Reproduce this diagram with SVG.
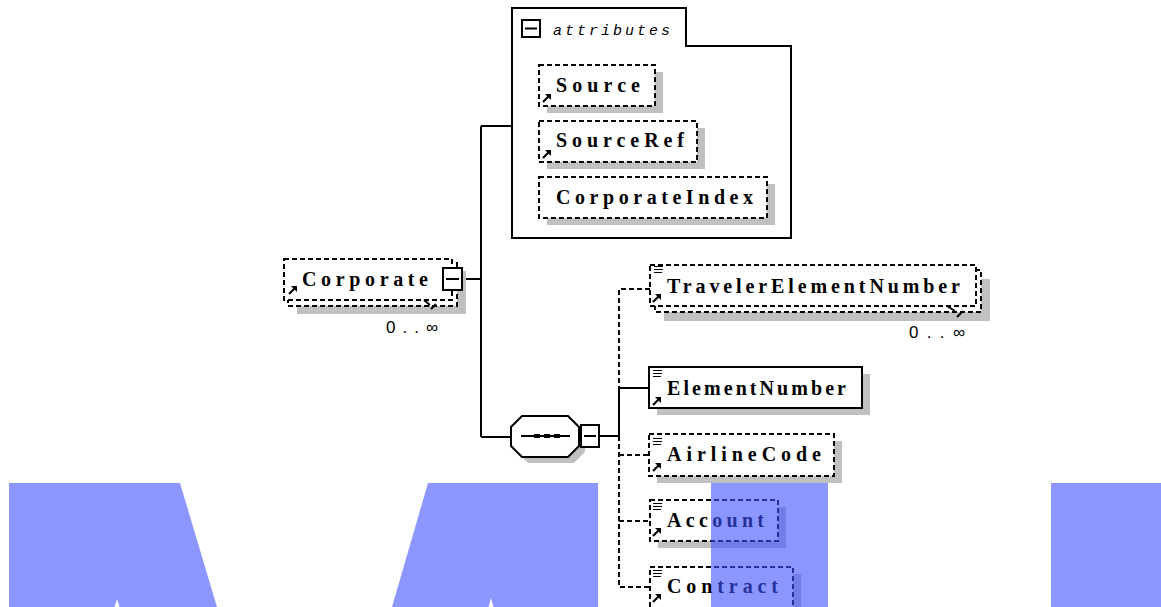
<svg xmlns="http://www.w3.org/2000/svg" width="1161" height="607" viewBox="0 0 1161 607">
<style>
.bx{fill:#fff;stroke:#000;stroke-width:2}
.d{stroke-dasharray:5 3}
.sh{fill:#c0c0c0;stroke:none}
.ln{fill:none;stroke:#000;stroke-width:2}
.lbl{font-family:"Liberation Serif","Times New Roman",serif;font-weight:bold;font-size:20px;fill:#000}
.it{font-family:"Liberation Mono","DejaVu Sans Mono",monospace;font-style:italic;font-size:15px;fill:#000}
.occ{font-family:"Liberation Sans","DejaVu Sans",sans-serif;font-size:17px;fill:#000}
.wm{fill:#4050ff;fill-opacity:0.6;stroke:none}
</style>
<defs>
<g id="ref"><path d="M1 9 L7 3" stroke="#000" stroke-width="2.2" fill="none"/><path d="M3 1 L9 1 L9 7 Z" fill="#000"/></g>
<g id="txt"><path d="M0 0.5h9M0 3.5h9M0 6.5h8" stroke="#000" stroke-width="1.2" fill="none"/></g>
</defs>

<g id="connectors">
<path class="ln" d="M462 279 H481 M481 126 V437 M481 126 H512 M481 437 H511"/>
<path class="ln" d="M599 436 H619 M619 388 V436 M619 388 H649"/>
<path class="ln d" d="M650 289 H619 V388 M619 436 V587 H650 M619 455 H649 M619 521 H650"/>
</g>

<g id="attributes">
<path class="ln" d="M512 8 H686 V46 H791 V238 H512 Z" fill="#fff"/>
<rect class="bx" x="522" y="20" width="18" height="17"/>
<path class="ln" d="M525 28.5 H537"/>
<text class="it" x="553" y="35" textLength="117" lengthAdjust="spacing">attributes</text>
</g>

<g id="Source">
<rect class="sh" x="547" y="72" width="116" height="41"/>
<rect class="bx d" x="539" y="65" width="116" height="41"/>
<use href="#ref" x="542" y="93"/>
<text class="lbl" x="556" y="92" textLength="84" lengthAdjust="spacing">Source</text>
</g>

<g id="SourceRef">
<rect class="sh" x="547" y="128" width="158" height="41"/>
<rect class="bx d" x="539" y="121" width="158" height="41"/>
<use href="#ref" x="542" y="149"/>
<text class="lbl" x="556" y="147" textLength="128" lengthAdjust="spacing">SourceRef</text>
</g>

<g id="CorporateIndex">
<rect class="sh" x="547" y="184" width="228" height="41"/>
<rect class="bx d" x="539" y="177" width="228" height="41"/>
<text class="lbl" x="556" y="204" textLength="197" lengthAdjust="spacing">CorporateIndex</text>
</g>

<g id="Corporate">
<rect class="sh" x="297" y="271" width="169" height="43"/>
<rect class="bx d" x="288" y="263" width="169" height="43"/>
<rect class="bx d" x="284" y="259" width="168" height="41"/>
<use href="#ref" x="288" y="285"/>
<text class="lbl" x="302" y="286" textLength="126" lengthAdjust="spacing">Corporate</text>
<path class="ln" d="M424 300 L430 305 M431 309 L436 304" stroke-width="1.2"/>
<rect class="bx" x="443" y="268" width="19" height="22"/>
<path class="ln" d="M446 279 H459"/>
<text class="occ" x="386" y="333" textLength="52" lengthAdjust="spacing">0..∞</text>
</g>

<g id="TravelerElementNumber">
<rect class="sh" x="664" y="279" width="326" height="42"/>
<rect class="bx d" x="655" y="270" width="326" height="42"/>
<rect class="bx d" x="650" y="265" width="326" height="41"/>
<use href="#txt" x="654" y="266"/>
<use href="#ref" x="652" y="293"/>
<text class="lbl" x="667" y="293" textLength="293" lengthAdjust="spacing">TravelerElementNumber</text>
<path class="ln" d="M947 306 L955 311 M957 317 L963 311" stroke-width="1.2"/>
<text class="occ" x="909" y="338" textLength="56" lengthAdjust="spacing">0..∞</text>
</g>

<g id="sequence">
<polygon class="sh" points="528,422 574,422 585,433 585,452 574,463 528,463 517,452 517,433"/>
<polygon class="bx" points="522,416 568,416 579,427 579,446 568,457 522,457 511,446 511,427"/>
<path class="ln" d="M521 436 H570"/>
<rect x="534" y="434" width="6" height="4" fill="#000"/>
<rect x="544" y="434" width="6" height="4" fill="#000"/>
<rect x="554" y="434" width="6" height="4" fill="#000"/>
<rect class="bx" x="581" y="425" width="18" height="22"/>
<path class="ln" d="M584 436 H596"/>
</g>

<g id="ElementNumber">
<rect class="sh" x="657" y="374" width="213" height="41"/>
<rect class="bx" x="649" y="367" width="213" height="41"/>
<use href="#txt" x="653" y="370"/>
<use href="#ref" x="652" y="396"/>
<text class="lbl" x="667" y="395" textLength="179" lengthAdjust="spacing">ElementNumber</text>
</g>

<g id="AirlineCode">
<rect class="sh" x="657" y="441" width="185" height="42"/>
<rect class="bx d" x="649" y="434" width="185" height="42"/>
<use href="#txt" x="653" y="438"/>
<use href="#ref" x="652" y="462"/>
<text class="lbl" x="667" y="461" textLength="154" lengthAdjust="spacing">AirlineCode</text>
</g>

<g id="Account">
<rect class="sh" x="658" y="507" width="128" height="41"/>
<rect class="bx d" x="650" y="500" width="128" height="41"/>
<use href="#txt" x="653" y="503"/>
<use href="#ref" x="652" y="527"/>
<text class="lbl" x="667" y="527" textLength="97" lengthAdjust="spacing">Account</text>
</g>

<g id="Contract">
<rect class="sh" x="658" y="574" width="143" height="41"/>
<rect class="bx d" x="650" y="567" width="143" height="41"/>
<use href="#txt" x="653" y="570"/>
<use href="#ref" x="652" y="593"/>
<text class="lbl" x="667" y="593" textLength="111" lengthAdjust="spacing">Contract</text>
</g>

<g id="overlay">
<polygon class="wm" points="9,483 180,483 217,607 119.5,607 117,599 114.5,607 9,607"/>
<polygon class="wm" points="428,483 598,483 598,607 493.5,607 491,598 488.5,607 392,607"/>
<rect class="wm" x="711" y="483" width="117" height="124"/>
<rect class="wm" x="1051" y="483" width="110" height="124"/>
</g>
</svg>
